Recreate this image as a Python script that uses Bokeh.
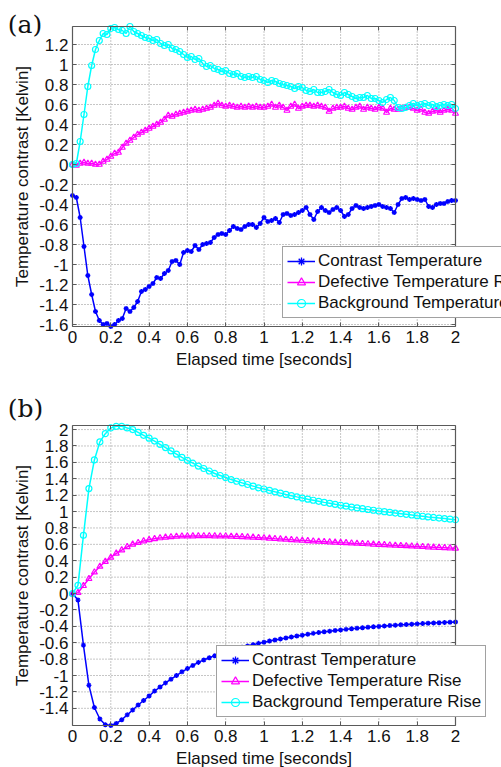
from bokeh.plotting import figure
from bokeh.layouts import column
from bokeh.models import (FixedTicker, CustomJSTickFormatter, LinearAxis, Legend,
                          LegendItem, Label, Range1d)
from bokeh.embed import file_html
from bokeh.resources import INLINE

# ---------------- data: panel (a) measured ----------------
t_a = [0.00, 0.02, 0.04, 0.06, 0.08, 0.10, 0.12, 0.14, 0.16, 0.18,
       0.20, 0.22, 0.24, 0.26, 0.28, 0.30, 0.32, 0.34, 0.36, 0.38,
       0.40, 0.42, 0.44, 0.46, 0.48, 0.50, 0.52, 0.54, 0.56, 0.58,
       0.60, 0.62, 0.64, 0.66, 0.68, 0.70, 0.72, 0.74, 0.76, 0.78,
       0.80, 0.82, 0.84, 0.86, 0.88, 0.90, 0.92, 0.94, 0.96, 0.98,
       1.00, 1.02, 1.04, 1.06, 1.08, 1.10, 1.12, 1.14, 1.16, 1.18,
       1.20, 1.22, 1.24, 1.26, 1.28, 1.30, 1.32, 1.34, 1.36, 1.38,
       1.40, 1.42, 1.44, 1.46, 1.48, 1.50, 1.52, 1.54, 1.56, 1.58,
       1.60, 1.62, 1.64, 1.66, 1.68, 1.70, 1.72, 1.74, 1.76, 1.78,
       1.80, 1.82, 1.84, 1.86, 1.88, 1.90, 1.92, 1.94, 1.96, 1.98,
       2.00]

contrast_a = [-0.31, -0.33, -0.53, -0.82, -1.11, -1.30, -1.47, -1.56, -1.60, -1.59,
              -1.62, -1.60, -1.56, -1.54, -1.44, -1.47, -1.43, -1.37, -1.27, -1.25,
              -1.22, -1.19, -1.13, -1.14, -1.09, -1.06, -0.97, -0.96, -1.00, -0.88,
              -0.86, -0.87, -0.81, -0.85, -0.80, -0.79, -0.78, -0.73, -0.70, -0.69,
              -0.70, -0.66, -0.62, -0.64, -0.65, -0.62, -0.60, -0.60, -0.63, -0.59,
              -0.53, -0.57, -0.56, -0.54, -0.58, -0.50, -0.49, -0.51, -0.50, -0.48,
              -0.46, -0.43, -0.50, -0.55, -0.47, -0.43, -0.46, -0.48, -0.45, -0.43,
              -0.46, -0.52, -0.50, -0.44, -0.41, -0.43, -0.44, -0.43, -0.42, -0.41,
              -0.40, -0.42, -0.43, -0.44, -0.48, -0.40, -0.34, -0.33, -0.35, -0.34,
              -0.35, -0.36, -0.35, -0.42, -0.43, -0.40, -0.39, -0.39, -0.37, -0.36,
              -0.36]

defective_a = [0.00, -0.01, 0.01, 0.02, 0.01, 0.01, 0.00, 0.00, 0.03, 0.05,
               0.08, 0.11, 0.12, 0.17, 0.21, 0.24, 0.27, 0.30, 0.32, 0.34,
               0.36, 0.38, 0.40, 0.42, 0.45, 0.49, 0.48, 0.50, 0.51, 0.52,
               0.53, 0.54, 0.55, 0.54, 0.55, 0.56, 0.57, 0.59, 0.61, 0.59,
               0.58, 0.59, 0.58, 0.57, 0.58, 0.57, 0.58, 0.57, 0.58, 0.57,
               0.57, 0.58, 0.60, 0.57, 0.59, 0.57, 0.54, 0.58, 0.60, 0.56,
               0.58, 0.59, 0.59, 0.58, 0.59, 0.58, 0.57, 0.53, 0.56, 0.57,
               0.57, 0.58, 0.56, 0.55, 0.57, 0.58, 0.55, 0.57, 0.56, 0.55,
               0.57, 0.56, 0.52, 0.56, 0.55, 0.55, 0.56, 0.57, 0.57, 0.56,
               0.54, 0.55, 0.52, 0.51, 0.53, 0.54, 0.52, 0.54, 0.55, 0.54,
               0.51]

background_a = [0.00, 0.01, 0.23, 0.50, 0.78, 0.99, 1.15, 1.24, 1.31, 1.30,
                1.36, 1.37, 1.35, 1.34, 1.31, 1.38, 1.33, 1.31, 1.29, 1.27,
                1.26, 1.24, 1.25, 1.21, 1.19, 1.20, 1.16, 1.15, 1.13, 1.10,
                1.07, 1.08, 1.05, 1.06, 1.01, 0.98, 0.99, 0.96, 0.95, 0.93,
                0.94, 0.91, 0.90, 0.91, 0.88, 0.87, 0.88, 0.87, 0.88, 0.85,
                0.84, 0.82, 0.84, 0.83, 0.81, 0.80, 0.79, 0.78, 0.76, 0.78,
                0.77, 0.74, 0.73, 0.75, 0.72, 0.72, 0.73, 0.75, 0.72, 0.70,
                0.69, 0.72, 0.70, 0.68, 0.66, 0.67, 0.67, 0.69, 0.66, 0.66,
                0.64, 0.62, 0.65, 0.67, 0.64, 0.57, 0.56, 0.57, 0.59, 0.61,
                0.59, 0.60, 0.61, 0.59, 0.60, 0.58, 0.59, 0.60, 0.59, 0.60,
                0.56]

# ---------------- data: panel (b) model ----------------
t_b = [0.0, 0.0286, 0.0571, 0.0857, 0.1143, 0.1429, 0.1714, 0.2, 0.2286, 0.2571,
       0.2857, 0.3143, 0.3429, 0.3714, 0.4, 0.4286, 0.4571, 0.4857, 0.5143, 0.5429,
       0.5714, 0.6, 0.6286, 0.6571, 0.6857, 0.7143, 0.7429, 0.7714, 0.8, 0.8286,
       0.8571, 0.8857, 0.9143, 0.9429, 0.9714, 1.0, 1.0286, 1.0571, 1.0857, 1.1143,
       1.1429, 1.1714, 1.2, 1.2286, 1.2571, 1.2857, 1.3143, 1.3429, 1.3714, 1.4,
       1.4286, 1.4571, 1.4857, 1.5143, 1.5429, 1.5714, 1.6, 1.6286, 1.6571, 1.6857,
       1.7143, 1.7429, 1.7714, 1.8, 1.8286, 1.8571, 1.8857, 1.9143, 1.9429, 1.9714,
       2.0]

contrast_b = [0.0, -0.08, -0.63, -1.12, -1.39, -1.53, -1.60, -1.61, -1.585, -1.54,
              -1.48, -1.42, -1.36, -1.305, -1.25, -1.19, -1.14, -1.09, -1.045, -1.0,
              -0.955, -0.915, -0.877, -0.84, -0.81, -0.783, -0.758, -0.735, -0.713, -0.693,
              -0.674, -0.656, -0.639, -0.623, -0.608, -0.594, -0.58, -0.567, -0.555, -0.543,
              -0.53, -0.519, -0.508, -0.497, -0.486, -0.476, -0.467, -0.459, -0.451, -0.444,
              -0.437, -0.43, -0.424, -0.418, -0.412, -0.406, -0.401, -0.396, -0.391, -0.386,
              -0.382, -0.378, -0.374, -0.37, -0.366, -0.362, -0.359, -0.356, -0.353, -0.35,
              -0.347]

defective_b = [0.0, 0.01, 0.095, 0.18, 0.26, 0.33, 0.39, 0.44, 0.49, 0.53,
               0.57, 0.60, 0.62, 0.64, 0.655, 0.667, 0.677, 0.685, 0.691, 0.696,
               0.699, 0.70, 0.701, 0.702, 0.702, 0.702, 0.701, 0.70, 0.699, 0.697,
               0.695, 0.692, 0.688, 0.685, 0.681, 0.677, 0.673, 0.668, 0.664, 0.66,
               0.655, 0.651, 0.647, 0.643, 0.639, 0.636, 0.632, 0.628, 0.625, 0.621,
               0.618, 0.614, 0.611, 0.607, 0.604, 0.60, 0.597, 0.594, 0.59, 0.587,
               0.584, 0.581, 0.577, 0.574, 0.571, 0.567, 0.564, 0.561, 0.558, 0.554,
               0.551]

background_b = [0.0, 0.10, 0.71, 1.28, 1.63, 1.85, 1.95, 2.02, 2.04, 2.04,
                2.02, 2.0, 1.965, 1.93, 1.895, 1.86, 1.82, 1.78, 1.74, 1.70,
                1.66, 1.625, 1.59, 1.555, 1.525, 1.495, 1.465, 1.44, 1.415, 1.39,
                1.37, 1.35, 1.33, 1.31, 1.29, 1.275, 1.258, 1.241, 1.225, 1.209,
                1.194, 1.179, 1.165, 1.151, 1.138, 1.125, 1.112, 1.10, 1.088, 1.077,
                1.066, 1.055, 1.045, 1.035, 1.025, 1.016, 1.007, 0.998, 0.99, 0.982,
                0.974, 0.966, 0.958, 0.95, 0.943, 0.935, 0.928, 0.921, 0.914, 0.907,
                0.90]

# ---------------- axis limits, ticks and labels ----------------
x_lim = (0.0, 2.0)
y_lim_a = (-1.62, 1.38)
y_lim_b = (-1.61, 2.05)
x_ticks = [0, 0.2, 0.4, 0.6, 0.8, 1.0, 1.2, 1.4, 1.6, 1.8, 2.0]
y_ticks_a = [-1.6, -1.4, -1.2, -1.0, -0.8, -0.6, -0.4, -0.2, 0.0,
             0.2, 0.4, 0.6, 0.8, 1.0, 1.2]
y_ticks_b = [-1.4, -1.2, -1.0, -0.8, -0.6, -0.4, -0.2, 0.0,
             0.2, 0.4, 0.6, 0.8, 1.0, 1.2, 1.4, 1.6, 1.8, 2.0]
series_labels = ["Contrast Temperature", "Defective Temperature Rise",
                 "Background Temperature Rise"]
x_label = "Elapsed time [seconds]"
y_label = "Temperature contrast [Kelvin]"

FONT = "Liberation Sans"
AXC = "#5a5a5a"
TXT = "#111111"
fmt_code = "return String(parseFloat(tick.toFixed(1)));"


def style_axis(ax, ticks, lab):
    ax.ticker = FixedTicker(ticks=ticks)
    ax.formatter = CustomJSTickFormatter(code=fmt_code)
    ax.axis_label = lab
    ax.axis_label_text_font = FONT
    ax.axis_label_text_font_size = "17px"
    ax.axis_label_text_font_style = "normal"
    ax.axis_label_text_color = TXT
    ax.axis_label_standoff = 4
    ax.major_label_text_font = FONT
    ax.major_label_text_font_size = "17px"
    ax.major_label_text_color = TXT
    ax.major_label_standoff = 4
    ax.major_tick_in = 4
    ax.major_tick_out = 0
    ax.major_tick_line_color = AXC
    ax.minor_tick_line_color = None
    ax.axis_line_color = AXC
    ax.axis_line_width = 1.2


def make_panel(t, contrast, defective, background, y_lim, y_ticks, height,
               x_view, y_view, tag, tag_xy, leg_loc):
    p = figure(width=501, height=height, x_range=Range1d(*x_view),
               y_range=Range1d(*y_view), output_backend="svg",
               toolbar_location=None, min_border=0,
               background_fill_color="white", border_fill_color="white")
    p.outline_line_color = None
    p.xgrid.visible = False
    p.ygrid.visible = False

    ylo, yhi = y_lim
    x0, x1 = x_lim
    # dotted grid restricted to the axes box
    p.segment(x0=x_ticks, y0=[ylo] * len(x_ticks), x1=x_ticks, y1=[yhi] * len(x_ticks),
              line_color="#8c8c8c", line_dash="1 2", line_width=1)
    p.segment(x0=[x0] * len(y_ticks), y0=y_ticks, x1=[x1] * len(y_ticks), y1=y_ticks,
              line_color="#8c8c8c", line_dash="1 2", line_width=1)

    xa = p.xaxis[0]
    style_axis(xa, x_ticks, x_label)
    xa.fixed_location = ylo
    xa.bounds = x_lim
    ya = p.yaxis[0]
    style_axis(ya, y_ticks, y_label)
    ya.fixed_location = x0
    ya.bounds = y_lim

    for loc, ticks, fixed, bnds in (("right", y_ticks, x1, y_lim),
                                     ("above", x_ticks, yhi, x_lim)):
        extra = LinearAxis(ticker=FixedTicker(ticks=ticks),
                           formatter=CustomJSTickFormatter(code="return '';"),
                           major_label_text_font_size="0px", major_label_standoff=0,
                           major_tick_in=4, major_tick_out=0,
                           major_tick_line_color=AXC, minor_tick_line_color=None,
                           axis_line_color=AXC, axis_line_width=1.2,
                           fixed_location=fixed, bounds=bnds)
        p.add_layout(extra, loc)

    l1 = p.line(t, contrast, line_color="#0000ff", line_width=1.5)
    s1 = p.scatter(t, contrast, marker="asterisk", size=5, line_color="#0000ff",
                   line_width=1.3)
    l2 = p.line(t, defective, line_color="#ff00ff", line_width=1.5)
    s2 = p.scatter(t, defective, marker="triangle", size=6, line_color="#ff00ff",
                   fill_color=None, line_width=1.2)
    l3 = p.line(t, background, line_color="#00ffff", line_width=1.5)
    s3 = p.scatter(t, background, marker="circle", size=6, line_color="#00ffff",
                   fill_color=None, line_width=1.2)

    legend = Legend(items=[LegendItem(label=series_labels[0], renderers=[l1, s1]),
                           LegendItem(label=series_labels[1], renderers=[l2, s2]),
                           LegendItem(label=series_labels[2], renderers=[l3, s3])],
                    location=leg_loc, label_text_font=FONT,
                    label_text_font_size="17px", label_text_color=TXT,
                    label_height=20, glyph_height=20, glyph_width=28, spacing=1,
                    padding=4, margin=0, label_standoff=3,
                    border_line_color="#444444", border_line_width=1,
                    background_fill_color="white", background_fill_alpha=1)
    p.add_layout(legend)

    p.add_layout(Label(x=tag_xy[0], y=tag_xy[1], text=tag, text_font="DejaVu Serif",
                       text_font_size="25px", text_baseline="top",
                       text_align="left", text_color=TXT))
    return p


# canvas coordinates: x in [-0.376, 2.2402]; (a) y in [-2.14, 1.64]; (b) y in [-2.1222, 2.6232]
p1 = make_panel(t_a, contrast_a, defective_a, background_a, y_lim_a, y_ticks_a, 378,
                (-0.376, 2.2402), (-2.14, 1.64), "(a)", (-0.338, 1.55), (282, 60))
p2 = make_panel(t_b, contrast_b, defective_b, background_b, y_lim_b, y_ticks_b, 389,
                (-0.376, 2.2402), (-2.1222, 2.6232), "(b)", (-0.338, 2.43), (216, 50))

layout = column(p1, p2, spacing=0)
open("out.html", "w").write(file_html(layout, INLINE))
